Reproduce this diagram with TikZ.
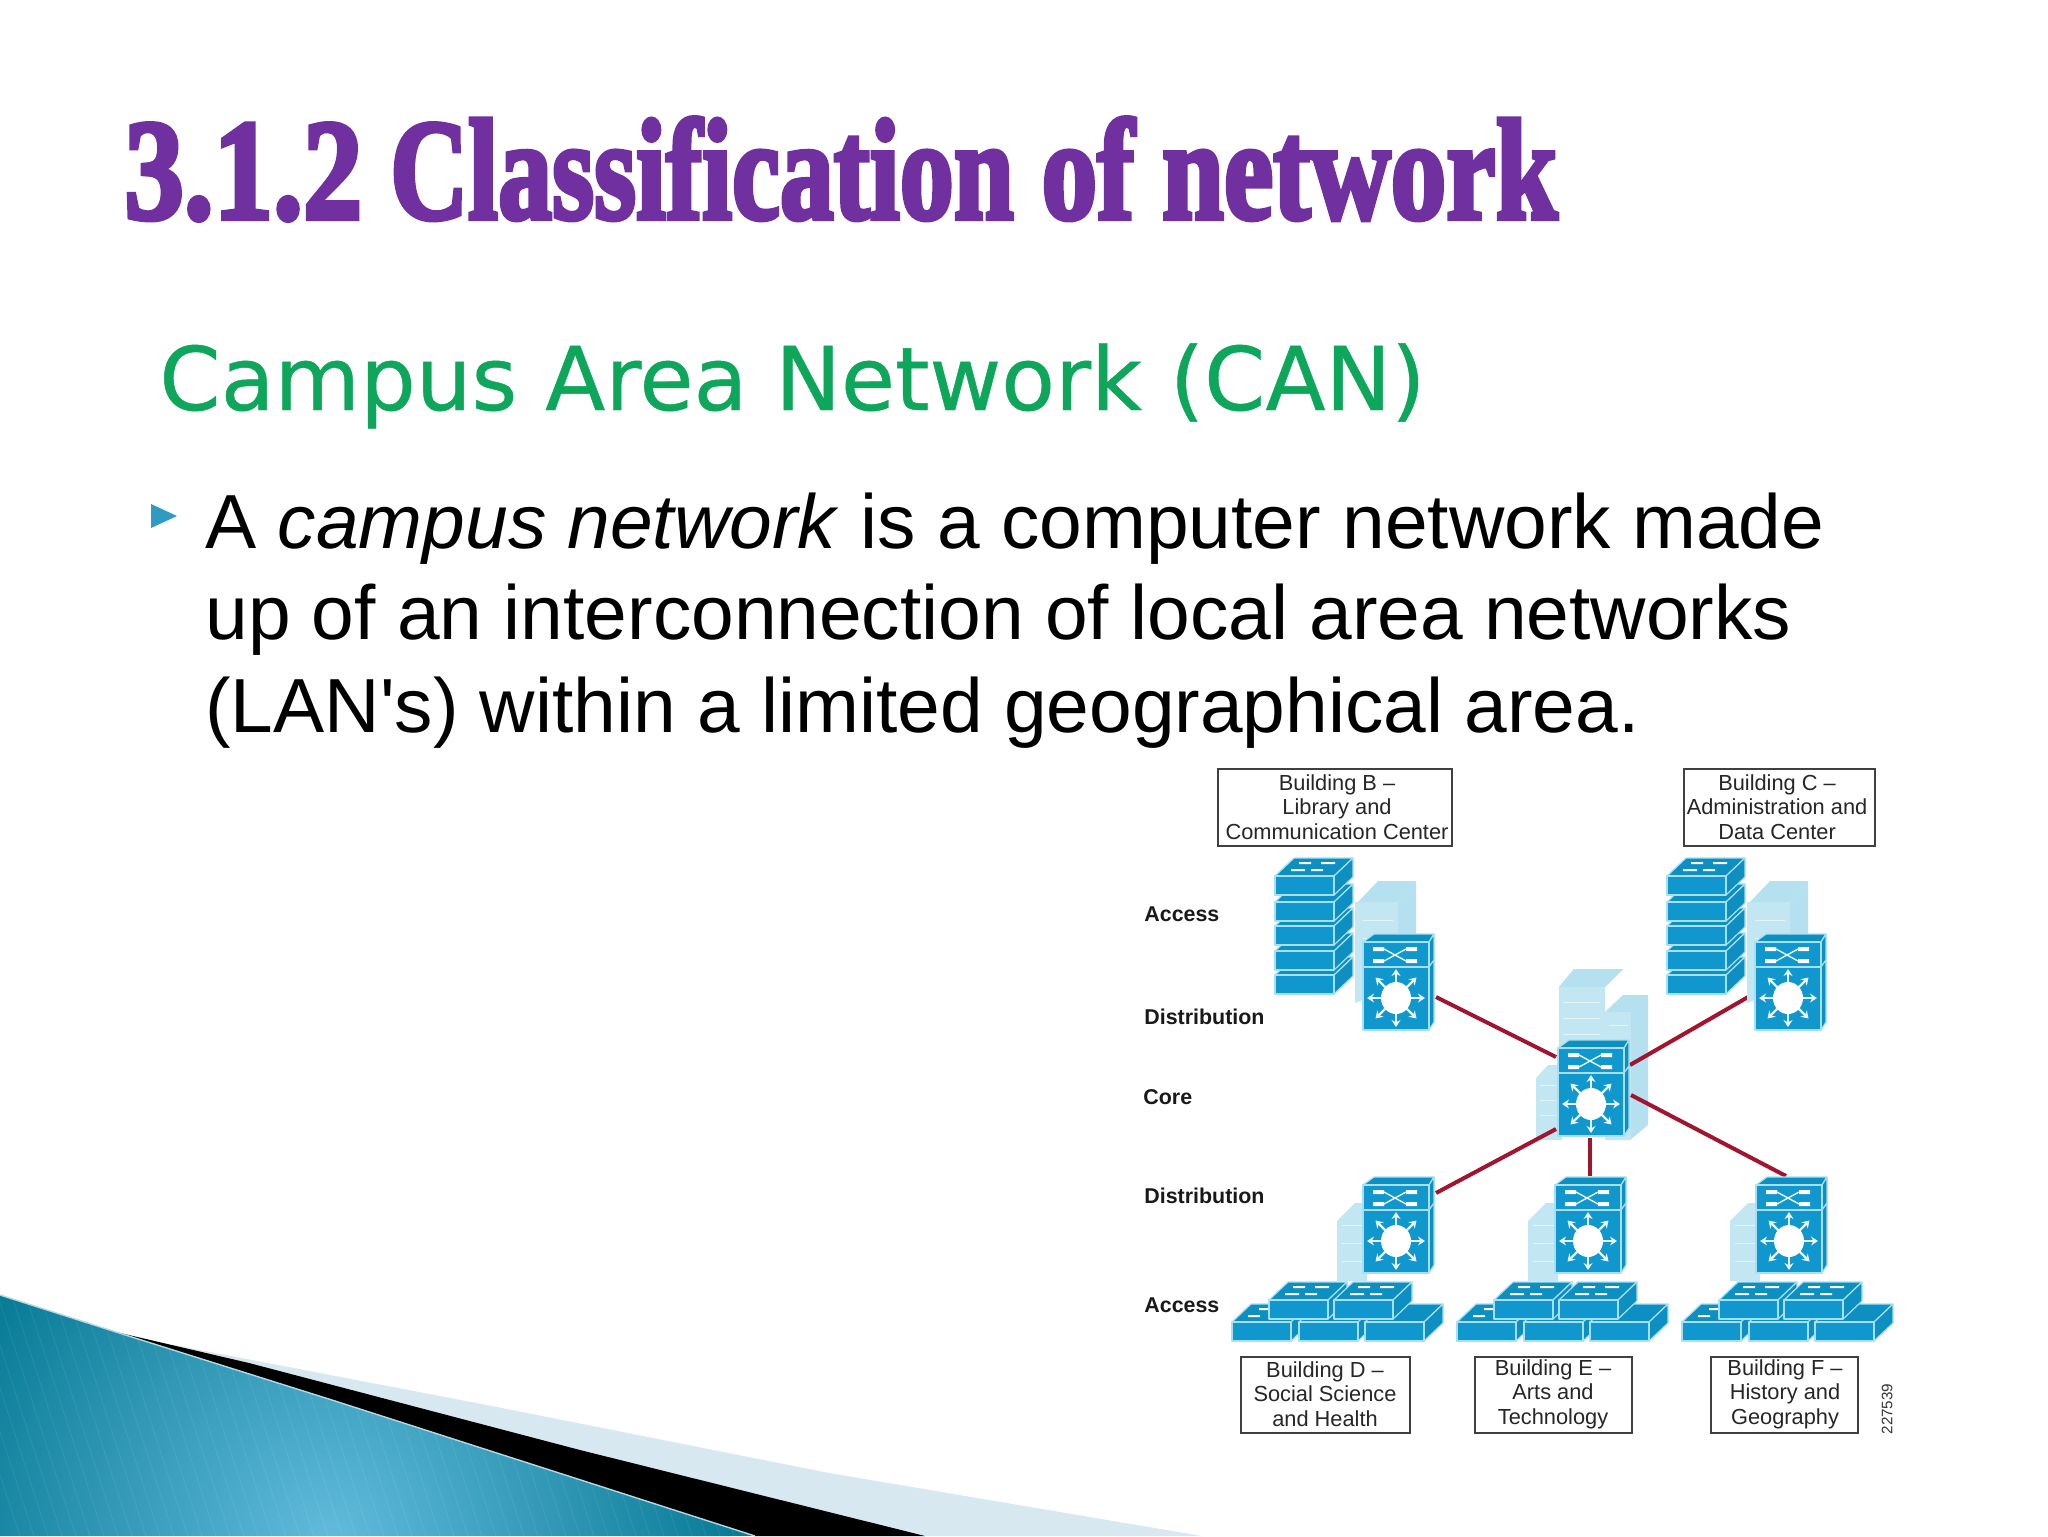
\documentclass[tikz,border=0pt]{standalone}
\usepackage{fontspec}
\usepackage{graphicx}
\setmainfont{Liberation Sans}
\newfontfamily\bodyfont{Liberation Sans}
\newfontfamily\titlefont[FakeBold=3.5]{Liberation Serif Bold}
\newfontfamily\subfont[FakeBold=0.5]{DejaVu Sans}
\usetikzlibrary{calc,arrows.meta}
\definecolor{titlepurple}{HTML}{7030A0}
\definecolor{subgreen}{HTML}{0DA65A}
\definecolor{bulletblue}{HTML}{2E9CC0}
\definecolor{devblue}{HTML}{0F97CE}
\definecolor{devtop}{HTML}{0E8FC2}
\definecolor{devedge}{HTML}{A6E0F2}
\definecolor{bldg}{HTML}{C2E7F3}
\definecolor{bldgtop}{HTML}{B4E0EF}
\definecolor{bldgline}{HTML}{E4F5FA}
\definecolor{linkred}{HTML}{A3142F}
\definecolor{tealdark}{HTML}{0A7C98}
\definecolor{teallight}{HTML}{62BBDB}
\definecolor{wedgelight}{HTML}{D8E8F0}
\tikzset{
  x=0.5pt,y=-0.5pt,
  devface/.style={fill=devblue,draw=devedge,line width=0.6pt,line join=round},
  devtopface/.style={fill=devtop,draw=devedge,line width=0.6pt,line join=round},
  whitebit/.style={fill=white,draw=none},
  whiteline/.style={draw=white!90!devblue,line width=0.7pt},
  arrowline/.style={draw=white!90!devblue,line width=1.2pt,-{Stealth[length=3.5pt,width=4.5pt]}},
  bldgface/.style={fill=bldg,draw=none},
  bldgtopface/.style={fill=bldgtop,draw=none},
  bldgwin/.style={draw=bldgline,line width=0.5pt},
  linkline/.style={draw=linkred,line width=2pt},
  bbox/.style={draw=black!75,line width=0.6pt,fill=white,inner sep=0pt},
  btext/.style={font=\fontsize{10.9}{12}\selectfont,inner sep=0pt,text=black!85},
  tier/.style={font=\fontsize{10.7}{12}\selectfont\bfseries,inner sep=0pt,anchor=west,text=black!90},
  bodyline/.style={font=\bodyfont\fontsize{38.35}{46}\selectfont,anchor=base west,inner sep=0pt},
  % multilayer switch; origin = top-left corner of the front face
  mls/.pic={
    \fill[devtop] (0,0)--(11,-8)--(71,-8)--(71,80)--(66,88)--(0,88)--cycle;
    \draw[devtopface] (0,0)--(11,-8)--(71,-8)--(66,0)--cycle;
    \draw[devtopface] (66,0)--(71,-8)--(71,18)--(66,25)--cycle;
    \draw[devtopface] (66,25)--(71,18)--(71,80)--(66,88)--cycle;
    \draw[devface] (0,0) rectangle (66,25);
    \draw[devface] (0,25) rectangle (66,88);
    \fill[whitebit] (10,5) rectangle (21,9) (10,17) rectangle (21,21)
                    (43,5) rectangle (54,9) (43,17) rectangle (54,21);
    \draw[whiteline] (21,7)--(43,19) (21,19)--(43,7);
    \foreach \a in {0,45,...,315}{
      \draw[arrowline] ($(33,56)+(\a:13)$)--($(33,56)+(\a:29)$);
    }
    \fill[white] (33,56) ellipse [x radius=15,y radius=16];
  },
  % one flat access switch; origin = top-left corner of the front face
  acc/.pic={
    \draw[devtopface] (0,0)--(19,-18)--(78,-18)--(59,0)--cycle;
    \draw[devtopface] (59,0)--(78,-18)--(78,1)--(59,19)--cycle;
    \draw[devface] (0,0) rectangle (59,19);
  },
  accmark/.pic={
    \fill[whitebit] (24,-14) rectangle (36,-12) (46,-14) rectangle (60,-12)
                    (16,-7) rectangle (30,-5) (36,-7) rectangle (48,-5);
  },
  % five-switch stack with the building behind it, origin = stack top-left
  stackb/.pic={
    \fill[bldgface] (80,26)--(123,26)--(123,110)--(80,127)--cycle;
    \fill[bldgtopface] (83,26)--(83,26)--(103,5)--(141,5)--(123,26)--cycle;
    \fill[bldgtopface] (123,26)--(141,5)--(141,95)--(123,120)--cycle;
    \foreach \yy in {44,62,80}{\draw[bldgwin] (88,\yy)--(118,\yy);}
    \foreach \yy in {99,75,50,26,0}{\pic at (0,\yy) {acc};}
    \pic at (0,0) {accmark};
  },
  % building behind a lower distribution switch
  bldglow/.pic={
    \fill[bldgface] (0,18)--(18,0)--(30,0)--(30,78)--(0,78)--cycle;
    \foreach \yy in {22,40,58}{\draw[bldgwin] (5,\yy)--(26,\yy);}
  },
  % brick wall of access switches; origin = lower-left front top corner
  wall/.pic={
    \pic at (0,0) {acc};
    \pic at (67,0) {acc};
    \pic at (133,0) {acc};
    \fill[whitebit] (16,-7) rectangle (28,-5) (27,-14) rectangle (36,-12) (157,-14) rectangle (170,-12) (148,-7) rectangle (160,-5);
    \pic at (37,-22) {acc};
    \pic at (102,-22) {acc};
    \pic at (37,-22) {accmark};
    \pic at (102,-22) {accmark};
  },
}
\begin{document}
\begin{tikzpicture}
\useasboundingbox (0,0) rectangle (2048,1536);
\fill[white] (0,0) rectangle (2048,1536);

% lower-left swoosh
\fill[wedgelight] (174,1345)--(497,1407)--(829,1473)--(1202,1536)--(800,1536)--cycle;
\fill[black] (116,1332)--(249,1363)--(580,1450)--(925,1536)--(755,1536)--cycle;
\begin{scope}
  \clip (0,1295)--(116,1332)--(332,1400)--(755,1536)--(0,1536)--cycle;
  \fill[tealdark] (0,1290) rectangle (760,1536);
  \shade[inner color=teallight,outer color=tealdark] (330,1540) circle [radius=400];
  \foreach \k in {-60,-46,...,800}{\draw[white,opacity=0.08,line width=0.4pt] (\k,1290)--(\k+80,1536);}
\end{scope}
\draw[white!70!tealdark,line width=0.7pt] (0,1295)--(116,1332)--(332,1400)--(755,1536);

% heading
\node[anchor=south west,inner sep=0pt,text=titlepurple] (title) at (124,221)
  {\resizebox{716.5pt}{50.5pt}{\titlefont \scalebox{1.07}[1]{3.1.2}\ \scalebox{0.97}[1]{Classification}\ of network}};
\node[anchor=base west,inner sep=0pt,text=subgreen] (subtitle) at (159,410)
  {\resizebox{633pt}{!}{\subfont Campus Area Network (CAN)}};

% body text
\fill[bulletblue] (151,504)--(177,516)--(151,528)--cycle;
\node[bodyline] (line1) at (205,548) {A \textit{campus network} is a computer network made};
\node[bodyline] (line2) at (205,639) {up of an interconnection of local area networks};
\node[bodyline] (line3) at (205,732) {(LAN's) within a limited geographical area.};

% building labels
\node[bbox,minimum width=117pt,minimum height=38.5pt] (boxB) at (1335,807.5) {};
\node[btext,align=center] (txtB) at (1337,807) {Building B --\\[0.25pt]Library and\\[0.25pt]Communication Center};
\node[bbox,minimum width=95.5pt,minimum height=38.5pt] (boxC) at (1779.5,807.5) {};
\node[btext,align=center] (txtC) at (1777,807) {Building C --\\[0.25pt]Administration and\\[0.25pt]Data Center};
\node[bbox,minimum width=84.5pt,minimum height=38pt] (boxD) at (1325.5,1395) {};
\node[btext,align=center] (txtD) at (1325,1394) {Building D --\\[0.25pt]Social Science\\[0.25pt]and Health};
\node[bbox,minimum width=78.5pt,minimum height=38pt] (boxE) at (1553.5,1395) {};
\node[btext,align=center] (txtE) at (1553,1394) {Building E --\\[0.25pt]Arts and\\[0.25pt]Technology};
\node[bbox,minimum width=73.5pt,minimum height=38pt] (boxF) at (1784.5,1395) {};
\node[btext,align=center] (txtF) at (1785,1394) {Building F --\\[0.25pt]History and\\[0.25pt]Geography};
\node[font=\fontsize{7.6}{9}\selectfont,rotate=90,inner sep=0pt,text=black!80] (serial) at (1887,1409) {227539};

% tier labels
\node[tier] (t1) at (1144,914) {Access};
\node[tier] (t2) at (1144,1017) {Distribution};
\node[tier] (t3) at (1143,1097) {Core};
\node[tier] (t4) at (1144,1196) {Distribution};
\node[tier] (t5) at (1144,1305) {Access};

% link end points
\coordinate (bPort) at (1436,997);
\coordinate (cPort) at (1755,993);
\coordinate (dPort) at (1436,1193);
\coordinate (ePort) at (1590,1176);
\coordinate (fPort) at (1786,1176);
\coordinate (coreNW) at (1556,1057);
\coordinate (coreNE) at (1630,1065);
\coordinate (coreSW) at (1556,1129);
\coordinate (coreS) at (1590,1138);
\coordinate (coreSE) at (1631,1095);

% core buildings
\fill[bldgface] (1559,987)--(1574,969)--(1623,969)--(1605,987)--(1605,1130)--(1559,1130)--cycle;
\fill[bldgtopface] (1559,987)--(1574,969)--(1623,969)--(1605,987)--cycle;
\fill[bldgtopface] (1605,1012)--(1623,995)--(1648,995)--(1648,1125)--(1630,1140)--(1605,1140)--cycle;
\fill[bldgface] (1605,1012)--(1631,1012)--(1631,1140)--(1605,1140)--cycle;
\fill[bldgface] (1536,1078)--(1548,1065)--(1562,1065)--(1562,1140)--(1536,1140)--cycle;
\foreach \yy in {1002,1018,1034}{\draw[bldgwin] (1563,\yy)--(1600,\yy);}
\foreach \yy in {1025,1040}{\draw[bldgwin] (1609,\yy)--(1628,\yy);}
\foreach \yy in {1085,1100,1115}{\draw[bldgwin] (1540,\yy)--(1556,\yy);}

% links
\draw[linkline] (bPort)--(coreNW);
\draw[linkline] (cPort)--(coreNE);
\draw[linkline] (dPort)--(coreSW);
\draw[linkline] (ePort)--(coreS);
\draw[linkline] (fPort)--(coreSE);

% upper buildings: access stacks and distribution switches
\pic at (1275,876) {stackb};
\pic at (1667,876) {stackb};
\pic at (1363,942) {mls};
\pic at (1755,942) {mls};

% core switch
\pic at (1558,1048) {mls};

% lower buildings
\pic at (1337,1203) {bldglow};
\pic at (1528,1203) {bldglow};
\pic at (1730,1203) {bldglow};
\pic at (1363,1185) {mls};
\pic at (1555,1185) {mls};
\pic at (1756,1185) {mls};
\pic at (1232,1322) {wall};
\pic at (1457,1322) {wall};
\pic at (1682,1322) {wall};
\end{tikzpicture}
\end{document}
